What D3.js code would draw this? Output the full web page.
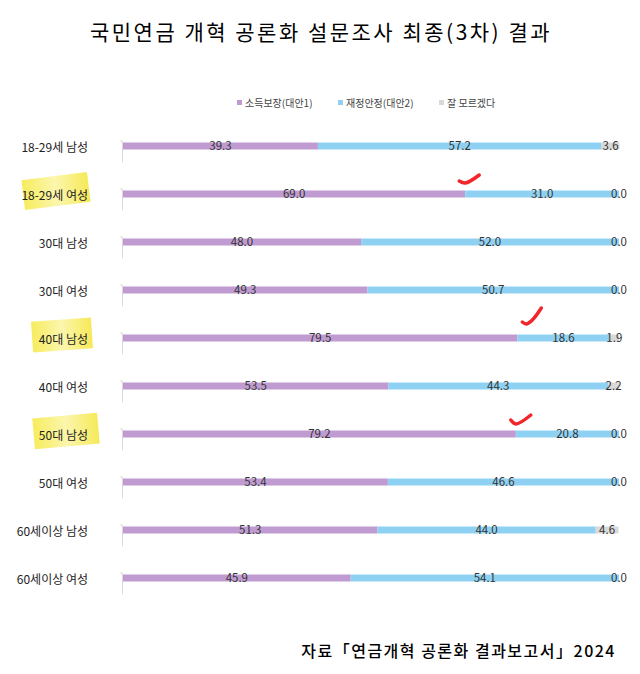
<!DOCTYPE html>
<html>
<head>
<meta charset="utf-8">
<script src="https://cdn.jsdelivr.net/npm/d3@7"></script>
<style>
  body { margin: 0; background: #fff; }
  text { font-family: "Noto Sans CJK KR", "Noto Sans", sans-serif; }
</style>
</head>
<body>
<div id="chart"></div>
<script>
var svgW = 640;
var svgH = 674;

// data
var categories = ["18-29세 남성", "18-29세 여성", "30대 남성", "30대 여성", "40대 남성",
                  "40대 여성", "50대 남성", "50대 여성", "60세이상 남성", "60세이상 여성"];
var seriesNames = ["소득보장(대안1)", "재정안정(대안2)", "잘 모르겠다"];
var income = [39.3, 69.0, 48.0, 49.3, 79.5, 53.5, 79.2, 53.4, 51.3, 45.9];
var fiscal = [57.2, 31.0, 52.0, 50.7, 18.6, 44.3, 20.8, 46.6, 44.0, 54.1];
var unsure = [3.6, 0.0, 0.0, 0.0, 1.9, 2.2, 0.0, 0.0, 4.6, 0.0];
var highlighted = ["18-29세 여성", "40대 남성", "50대 남성"];

var colors = ["#c09bd2", "#8fd1f2", "#d9d9d9"];

var svg = d3.select("#chart")
            .append("svg")
            .attr("width", svgW)
            .attr("height", svgH);

var rows = categories.map((c, i) => ({cat: c, vals: [income[i], fiscal[i], unsure[i]]}));

var xScale = d3.scaleLinear().domain([0, 100]).range([123, 619]);
var yScale = d3.scaleBand().domain(categories).range([122, 602]);
var barH = 7;

// gradient for highlighter marks
var defs = svg.append("defs");
var grad = defs.append("linearGradient").attr("id", "hl").attr("x1", "0").attr("x2", "1");
grad.append("stop").attr("offset", "0").attr("stop-color", "#f6ea4c");
grad.append("stop").attr("offset", "0.5").attr("stop-color", "#fbf5a4");
grad.append("stop").attr("offset", "1").attr("stop-color", "#f5e746");

// title
svg.append("text")
   .attr("x", 321).attr("y", 40)
   .attr("text-anchor", "middle")
   .attr("font-size", 21)
   .attr("letter-spacing", 2.5)
   .attr("fill", "#000")
   .text("국민연금 개혁 공론화 설문조사 최종(3차) 결과");

// legend
var legendX = [237, 338, 439];
var legend = svg.append("g");
seriesNames.forEach((s, i) => {
    legend.append("rect")
          .attr("x", legendX[i]).attr("y", 100)
          .attr("width", 5).attr("height", 5)
          .attr("fill", colors[i]);
    legend.append("text")
          .attr("x", legendX[i] + 8).attr("y", 106.5)
          .attr("font-size", 10)
          .attr("fill", "#444")
          .text(s);
});

// highlighter boxes behind some labels
var hlBoxes = {
    "18-29세 여성": {cx: 56, w: 66, h: 30, rot: -7},
    "40대 남성": {cx: 62, w: 60, h: 31, rot: -4},
    "50대 남성": {cx: 66, w: 65, h: 31, rot: -5}
};
highlighted.forEach(c => {
    var b = hlBoxes[c];
    var cy = yScale(c) + yScale.bandwidth() / 2 - 3;
    svg.append("rect")
       .attr("x", -b.w / 2).attr("y", -b.h / 2)
       .attr("width", b.w).attr("height", b.h)
       .attr("fill", "url(#hl)")
       .attr("opacity", 0.9)
       .attr("transform", `translate(${b.cx}, ${cy}) rotate(${b.rot})`);
});

// y axis (labels only) + light gray axis pieces
var leftAxis = d3.axisLeft(yScale).tickSize(0).tickPadding(34);
var axisG = svg.append("g")
   .attr("transform", "translate(122, 2)")
   .call(leftAxis);
axisG.select(".domain").remove();
axisG.selectAll("text")
     .attr("font-size", 12)
     .attr("fill", "#222")
     .attr("dy", "0.35em");

var axisPieces = svg.append("g");
rows.forEach(r => {
    var yc = yScale(r.cat) + yScale.bandwidth() / 2;
    axisPieces.append("line")
       .attr("x1", 122.5).attr("x2", 122.5)
       .attr("y1", yc - 5).attr("y2", yc + 16)
       .attr("stroke", "#d9d9d9");
    axisPieces.append("line")
       .attr("x1", 120).attr("x2", 122.5)
       .attr("y1", yc - 5).attr("y2", yc - 5)
       .attr("stroke", "#d9d9d9");
});

// stacked bars
rows.forEach(r => {
    var yc = yScale(r.cat) + yScale.bandwidth() / 2;
    var acc = 0;
    r.vals.forEach((v, i) => {
        var x0 = xScale(acc), x1 = xScale(acc + v);
        svg.append("rect")
           .attr("x", x0).attr("y", yc - barH / 2)
           .attr("width", x1 - x0).attr("height", barH)
           .attr("fill", colors[i]);
        acc += v;
    });
});

// value labels
rows.forEach(r => {
    var yc = yScale(r.cat) + yScale.bandwidth() / 2;
    var acc = 0;
    r.vals.forEach((v, i) => {
        var mid = xScale(acc + v / 2);
        svg.append("text")
           .attr("x", mid).attr("y", yc)
           .attr("dy", "0.36em")
           .attr("text-anchor", "middle")
           .attr("font-family", "Liberation Sans, Arial, sans-serif")
           .attr("font-size", 11.5)
           .attr("fill", "#333")
           .text(v.toFixed(1));
        acc += v;
    });
});

// red check marks near the purple/blue boundary of highlighted rows
var checks = {
    "18-29세 여성": [[-6, -13], [0, -11], [14, -19]],
    "40대 남성": [[5, -16], [9, -14], [15, -18], [24, -30]],
    "50대 남성": [[-5, -14], [0, -10], [15, -19]]
};
var line = d3.line().curve(d3.curveCatmullRom);
highlighted.forEach(c => {
    var i = categories.indexOf(c);
    var xb = xScale(income[i]);
    var yc = yScale(c) + yScale.bandwidth() / 2;
    svg.append("path")
       .attr("d", line(checks[c].map(p => [xb + p[0], yc + p[1]])))
       .attr("fill", "none")
       .attr("stroke", "#f2262a")
       .attr("stroke-width", 3.5)
       .attr("stroke-linecap", "round")
       .attr("stroke-linejoin", "round");
});

// source
svg.append("text")
   .attr("x", 616).attr("y", 657)
   .attr("text-anchor", "end")
   .attr("font-size", 16)
   .attr("font-weight", 500)
   .attr("letter-spacing", 1.5)
   .attr("fill", "#000")
   .text("자료「연금개혁 공론화 결과보고서」2024");
</script>
</body>
</html>
